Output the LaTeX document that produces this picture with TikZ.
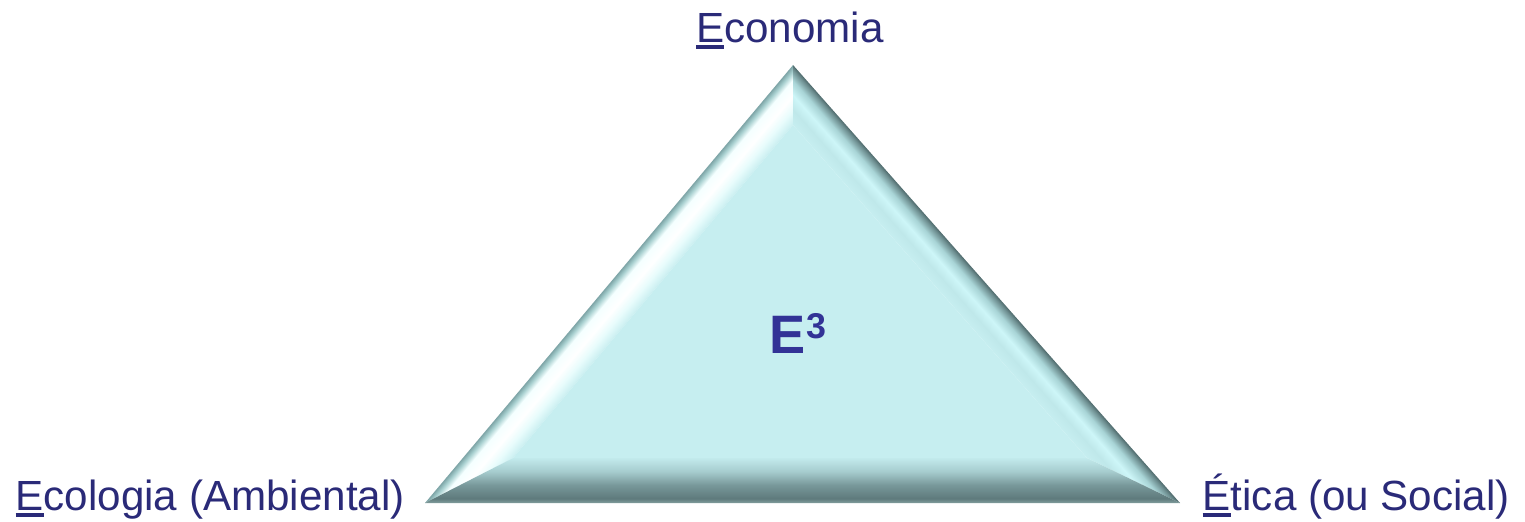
\documentclass[tikz,border=0pt]{standalone}
\usepackage{fontspec}
\setmainfont{Liberation Sans}
\usetikzlibrary{positioning}

\definecolor{rotulo}{RGB}{42,42,120}
\definecolor{etres}{RGB}{50,50,150}
\definecolor{centro}{RGB}{198,238,240}
% cores do chanfro
\definecolor{esqA}{RGB}{200,238,240}
\definecolor{esqB}{RGB}{232,252,252}
\definecolor{esqC}{RGB}{244,255,255}
\definecolor{esqD}{RGB}{168,208,208}
\definecolor{esqE}{RGB}{127,166,168}
\definecolor{dirA}{RGB}{79,106,108}
\definecolor{dirB}{RGB}{111,144,146}
\definecolor{dirC}{RGB}{168,212,214}
\definecolor{dirD}{RGB}{205,246,248}
\definecolor{dirE}{RGB}{191,232,234}
\definecolor{infA}{RGB}{130,158,158}
\definecolor{infB}{RGB}{94,122,124}
\definecolor{infC}{RGB}{120,152,154}
\definecolor{infD}{RGB}{166,204,206}
\definecolor{infE}{RGB}{194,234,236}

\pgfdeclareverticalshading{faceesq}{100bp}{color(0bp)=(esqA); color(25bp)=(esqA); color(38bp)=(esqB); color(50bp)=(white); color(63bp)=(esqC); color(70bp)=(esqD); color(75bp)=(esqE); color(100bp)=(esqE)}
\pgfdeclareverticalshading{facedir}{100bp}{color(0bp)=(dirA); color(25bp)=(dirA); color(29bp)=(dirB); color(38bp)=(dirC); color(50bp)=(dirD); color(62bp)=(dirE); color(75bp)=(centro); color(100bp)=(centro)}
\pgfdeclareverticalshading{faceinf}{100bp}{color(0bp)=(infA); color(25bp)=(infA); color(30bp)=(infB); color(45bp)=(infC); color(60bp)=(infD); color(75bp)=(infE); color(100bp)=(infE)}

\newcommand{\sublinha}[1]{\setbox0\hbox{#1}\rlap{\rule[-2pt]{\wd0}{1.1pt}}#1}

\begin{document}
\begin{tikzpicture}[
    rotulo/.style={text=rotulo, font=\fontsize{12}{14}\selectfont, inner sep=0pt}]
  \useasboundingbox (0,0) rectangle (15.25,5.21);
  % vertices do triangulo (externo e interno)
  \coordinate (apex) at (7.93,4.56);
  \coordinate (lft) at (4.25,0.18);
  \coordinate (rgt) at (11.80,0.18);
  \coordinate (iapex) at (7.93,3.96);
  \coordinate (ilft) at (5.13,0.63);
  \coordinate (irgt) at (10.87,0.63);

  % face esquerda
  \begin{scope}
    \clip (lft) -- (apex) -- (iapex) -- (ilft) -- cycle;
    \begin{scope}[transform canvas={rotate around={49.96:(4.25,0.18)}}]
      \shade[shading=faceesq] (3.7,-0.21) rectangle (10.5,0.18);
    \end{scope}
  \end{scope}
  % face direita
  \begin{scope}
    \clip (rgt) -- (apex) -- (iapex) -- (irgt) -- cycle;
    \begin{scope}[transform canvas={rotate around={131.46:(11.80,0.18)}}]
      \shade[shading=facedir] (11.3,0.18) rectangle (18.2,0.58);
    \end{scope}
  \end{scope}
  % face inferior
  \begin{scope}
    \clip (lft) -- (rgt) -- (irgt) -- (ilft) -- cycle;
    \shade[shading=faceinf] (4.25,0.18) rectangle (11.80,0.63);
  \end{scope}
  \fill[centro] (iapex) -- (ilft) -- (irgt) -- cycle;

  \node[text=etres, font=\fontsize{15.4}{18}\bfseries, anchor=base, inner sep=0pt] (e3) at (7.98,1.68)
    {E\raisebox{4.2pt}{\fontsize{10.2}{11}\selectfont 3}};

  \node[rotulo, anchor=base] (economia) at (7.90,4.79) {\sublinha{E}conomia};
  \node[rotulo, anchor=base west] (ecologia) at (0.15,0.11) {\sublinha{E}cologia (Ambiental)};
  \node[rotulo, anchor=base west] (etica) at (12.02,0.11) {\sublinha{É}tica (ou Social)};
\end{tikzpicture}
\end{document}
